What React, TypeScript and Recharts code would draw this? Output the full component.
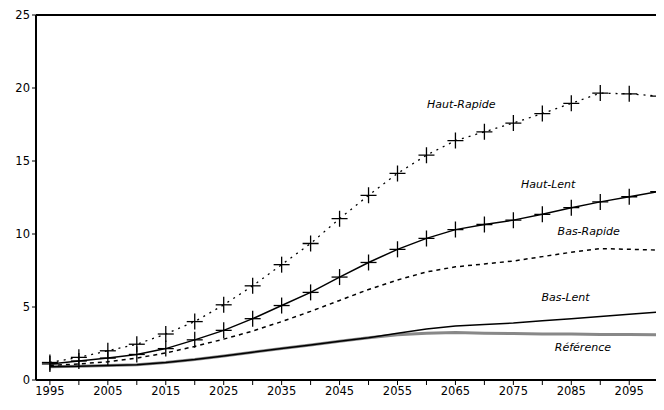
import { LineChart, Line, XAxis, YAxis, ReferenceLine, ReferenceDot } from 'recharts';

const years = [1995, 2000, 2005, 2010, 2015, 2020, 2025, 2030, 2035, 2040, 2045, 2050, 2055, 2060, 2065, 2070, 2075, 2080, 2085, 2090, 2095, 2100];
const hautRapide = [1.2, 1.55, 2.0, 2.45, 3.15, 4.0, 5.15, 6.45, 7.9, 9.35, 11.05, 12.65, 14.15, 15.4, 16.4, 17.0, 17.6, 18.25, 18.95, 19.65, 19.6, 19.45];
const hautLent = [1.1, 1.3, 1.5, 1.75, 2.15, 2.75, 3.4, 4.2, 5.1, 6.0, 7.05, 8.05, 8.95, 9.7, 10.3, 10.65, 10.95, 11.35, 11.8, 12.2, 12.55, 12.9];
const basRapide = [1.0, 1.1, 1.25, 1.5, 1.85, 2.3, 2.8, 3.35, 4.0, 4.7, 5.45, 6.2, 6.85, 7.4, 7.75, 7.95, 8.15, 8.45, 8.75, 9.0, 8.95, 8.9];
const basLent = [0.9, 0.95, 1.0, 1.05, 1.2, 1.4, 1.65, 1.9, 2.15, 2.4, 2.65, 2.9, 3.2, 3.5, 3.7, 3.8, 3.9, 4.05, 4.2, 4.35, 4.5, 4.65];
const reference = [0.9, 0.95, 1.0, 1.05, 1.2, 1.4, 1.65, 1.9, 2.15, 2.4, 2.65, 2.9, 3.1, 3.2, 3.25, 3.2, 3.18, 3.15, 3.15, 3.12, 3.12, 3.1];
const xTicks = [1995, 2000, 2005, 2010, 2015, 2020, 2025, 2030, 2035, 2040, 2045, 2050, 2055, 2060, 2065, 2070, 2075, 2080, 2085, 2090, 2095, 2100];
const yTicks = [0, 5, 10, 15, 20, 25];
const seriesLabels = [
  { text: 'Haut-Rapide', x: 2066, y: 18.9 },
  { text: 'Haut-Lent', x: 2081, y: 13.4 },
  { text: 'Bas-Rapide', x: 2088, y: 10.2 },
  { text: 'Bas-Lent', x: 2084, y: 5.7 },
  { text: 'Référence', x: 2087, y: 2.25 },
];

const data = years.map((year, i) => ({
  year,
  hautRapide: hautRapide[i],
  hautLent: hautLent[i],
  basRapide: basRapide[i],
  basLent: basLent[i],
  reference: reference[i],
}));

const Cross = (props: any) => {
  const { cx, cy } = props;
  if (cx == null || cy == null) return null;
  return (
    <g stroke="#000" strokeWidth={1.3}>
      <line x1={cx - 8} x2={cx + 8} y1={cy} y2={cy} />
      <line x1={cx} x2={cx} y1={cy - 8} y2={cy + 8} />
    </g>
  );
};

const font = '"DejaVu Sans", "Noto Sans", sans-serif';

export default function App() {
  return (
    <div style={{ margin: -8, width: 664, height: 410, background: '#fff' }}>
      <LineChart width={664} height={410} data={data} margin={{ top: 15, right: 0, bottom: 0, left: 0 }}>
        <XAxis
          dataKey="year"
          type="number"
          domain={[1992.6, 2101]}
          ticks={xTicks}
          allowDataOverflow
          interval={0}
          tickFormatter={(v: number) => ((v - 1995) % 10 === 0 ? String(v) : '')}
          tickSize={5}
          tick={{ fontSize: 11.5, fill: '#000', fontFamily: font }}
          axisLine={{ stroke: '#000', strokeWidth: 2 }}
          tickLine={{ stroke: '#000' }}
          height={30}
        />
        <YAxis
          domain={[0, 25]}
          ticks={yTicks}
          width={36}
          tickSize={4}
          tick={{ fontSize: 11.5, fill: '#000', fontFamily: font }}
          axisLine={{ stroke: '#000', strokeWidth: 2 }}
          tickLine={{ stroke: '#000' }}
        />
        <ReferenceLine y={25} stroke="#000" strokeWidth={2} />
        <Line dataKey="reference" stroke="#888" strokeWidth={3} dot={false} isAnimationActive={false} />
        <Line dataKey="basLent" stroke="#000" strokeWidth={1.5} dot={false} isAnimationActive={false} />
        <Line dataKey="basRapide" stroke="#000" strokeWidth={1.5} strokeDasharray="4 4" dot={false} isAnimationActive={false} />
        <Line dataKey="hautLent" stroke="#000" strokeWidth={1.5} dot={<Cross />} isAnimationActive={false} />
        <Line dataKey="hautRapide" stroke="#000" strokeWidth={1.3} strokeDasharray="2 5" dot={<Cross />} isAnimationActive={false} />
        {seriesLabels.map((l) => (
          <ReferenceDot
            key={l.text}
            x={l.x}
            y={l.y}
            r={0}
            stroke="none"
            label={{ value: l.text, position: 'center', fontSize: 11, fontStyle: 'italic', fill: '#000', fontFamily: font }}
          />
        ))}
      </LineChart>
    </div>
  );
}
